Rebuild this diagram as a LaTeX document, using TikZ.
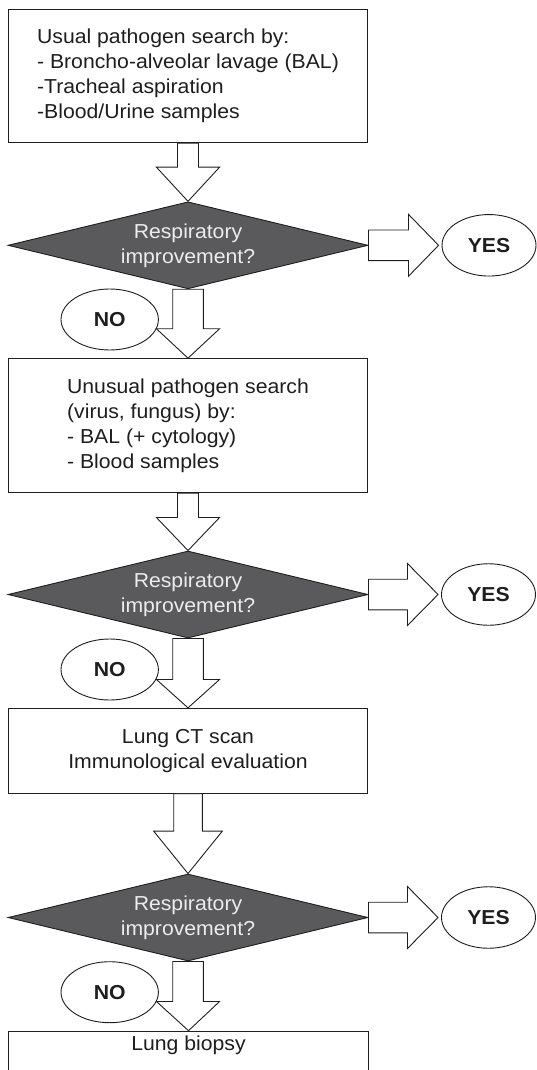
\documentclass[tikz,border=0pt]{standalone}
\usepackage{fontspec}
\setmainfont{Liberation Sans}[FakeStretch=1.05]
\usetikzlibrary{shapes.geometric,calc}
\definecolor{diafill}{RGB}{90,90,92}
\definecolor{diatext}{RGB}{236,236,236}
\definecolor{ink}{RGB}{30,30,30}
\tikzset{
  basefont/.style={font=\fontsize{20.2}{25}\selectfont},
  stepbox/.style={basefont, text=ink, draw=ink, line width=0.9pt, fill=white, rectangle, inner sep=0pt, minimum width=358.6pt},
  decision/.style={basefont, text=diatext, draw=ink, line width=0.9pt, fill=diafill, diamond, aspect=4.138, inner sep=0pt, minimum width=360pt, minimum height=87pt, align=center},
  yesno/.style={font=\fontsize{20.2}{25}\selectfont\bfseries, text=ink, draw=ink, line width=0.9pt, fill=white, ellipse, inner sep=0pt, minimum width=94pt, minimum height=61.5pt},
  blockarrow/.style={draw=ink, line width=0.9pt, fill=white, line join=miter}
}
\begin{document}
\begin{tikzpicture}[x=1pt,y=-1pt]
\useasboundingbox (0,0) rectangle (537,1070);
\clip (0,0) rectangle (537,1070);

% boxes
\node[stepbox, minimum height=133.4pt, align=left] (b1) at (188,76)
  {Usual pathogen search by:\\- Broncho-alveolar lavage (BAL)\\-Tracheal aspiration\\-Blood/Urine samples};
\node[stepbox, minimum height=134pt, align=left] (b2) at (188,425.6)
  {Unusual pathogen search\\(virus, fungus) by:\\- BAL (+ cytology)\\- Blood samples};
\node[stepbox, minimum height=85pt, align=center] (b3) at (188,750.8)
  {Lung CT scan\\Immunological evaluation};
\node[stepbox, minimum width=360pt, minimum height=80pt, anchor=north] (b4) at (188.5,1030.7) {};
\node[basefont, text=ink, anchor=base, inner sep=0pt] (b4t) at ($(b4.north)+(0,19.3)$) {Lung biopsy};

% decisions
\node[decision] (d1) at (188,245.3) {Respiratory\\improvement?};
\node[decision] (d2) at (188,594.5) {Respiratory\\improvement?};
\node[decision] (d3) at (188,917.5) {Respiratory\\improvement?};

% YES / NO
\node[yesno] (y1) at (489,245.3) {YES};
\node[yesno] (y2) at (488.5,594.5) {YES};
\node[yesno] (y3) at (488.5,917.5) {YES};
\node[yesno, minimum width=97.4pt, minimum height=61pt] (n1) at (109.7,319.5) {NO};
\node[yesno, minimum width=97.4pt, minimum height=61pt] (n2) at (109.7,669.5) {NO};
\node[yesno, minimum width=97.4pt, minimum height=61pt] (n3) at (109.7,992.2) {NO};

% down arrows box -> decision
\draw[blockarrow] ($(b1.south)+(-10.5,0)$) -- ($(b1.south)+(-10.5,24)$) -- ($(b1.south)+(-31.6,24)$) -- (d1.north)
  -- ($(b1.south)+(31.6,24)$) -- ($(b1.south)+(10.5,24)$) -- ($(b1.south)+(10.5,0)$) -- cycle;
\draw[blockarrow] ($(b2.south)+(-10.5,0)$) -- ($(b2.south)+(-10.5,24.4)$) -- ($(b2.south)+(-31.6,24.4)$) -- (d2.north)
  -- ($(b2.south)+(31.6,24.4)$) -- ($(b2.south)+(10.5,24.4)$) -- ($(b2.south)+(10.5,0)$) -- cycle;
\draw[blockarrow] ($(b3.south)+(-14.3,0)$) -- ($(b3.south)+(-14.3,37.4)$) -- ($(b3.south)+(-34.3,37.4)$) -- (d3.north)
  -- ($(b3.south)+(34.3,37.4)$) -- ($(b3.south)+(14.3,37.4)$) -- ($(b3.south)+(14.3,0)$) -- cycle;

% NO arrows decision -> box
\draw[blockarrow] ($(d1.south)+(-15.3,0)$) -- ($(d1.south)+(-15.3,39.5)$) -- ($(d1.south)+(-31.6,39.5)$) -- (b2.north)
  -- ($(d1.south)+(31.6,39.5)$) -- ($(d1.south)+(15.3,39.5)$) -- ($(d1.south)+(15.3,0)$) -- cycle;
\draw[blockarrow] ($(d2.south)+(-15.3,0)$) -- ($(d2.south)+(-15.3,41)$) -- ($(d2.south)+(-31.6,41)$) -- (b3.north)
  -- ($(d2.south)+(31.6,41)$) -- ($(d2.south)+(15.3,41)$) -- ($(d2.south)+(15.3,0)$) -- cycle;
\draw[blockarrow] ($(d3.south)+(-15.3,0)$) -- ($(d3.south)+(-15.3,40)$) -- ($(d3.south)+(-31.6,40)$) -- (b4.north)
  -- ($(d3.south)+(31.6,40)$) -- ($(d3.south)+(15.3,40)$) -- ($(d3.south)+(15.3,0)$) -- cycle;

% YES arrows decision -> ellipse
\draw[blockarrow] ($(d1.east)+(0,-15.3)$) -- ($(d1.east)+(40,-15.3)$) -- ($(d1.east)+(40,-31)$) -- ($(y1.west)+(-3,0)$)
  -- ($(d1.east)+(40,31)$) -- ($(d1.east)+(40,15.3)$) -- ($(d1.east)+(0,15.3)$) -- cycle;
\draw[blockarrow] ($(d2.east)+(0,-15.3)$) -- ($(d2.east)+(39,-15.3)$) -- ($(d2.east)+(39,-31)$) -- ($(y2.west)+(-3,0)$)
  -- ($(d2.east)+(39,31)$) -- ($(d2.east)+(39,15.3)$) -- ($(d2.east)+(0,15.3)$) -- cycle;
\draw[blockarrow] ($(d3.east)+(0,-15.3)$) -- ($(d3.east)+(39,-15.3)$) -- ($(d3.east)+(39,-31)$) -- ($(y3.west)+(-3,0)$)
  -- ($(d3.east)+(39,31)$) -- ($(d3.east)+(39,15.3)$) -- ($(d3.east)+(0,15.3)$) -- cycle;
\end{tikzpicture}
\end{document}
